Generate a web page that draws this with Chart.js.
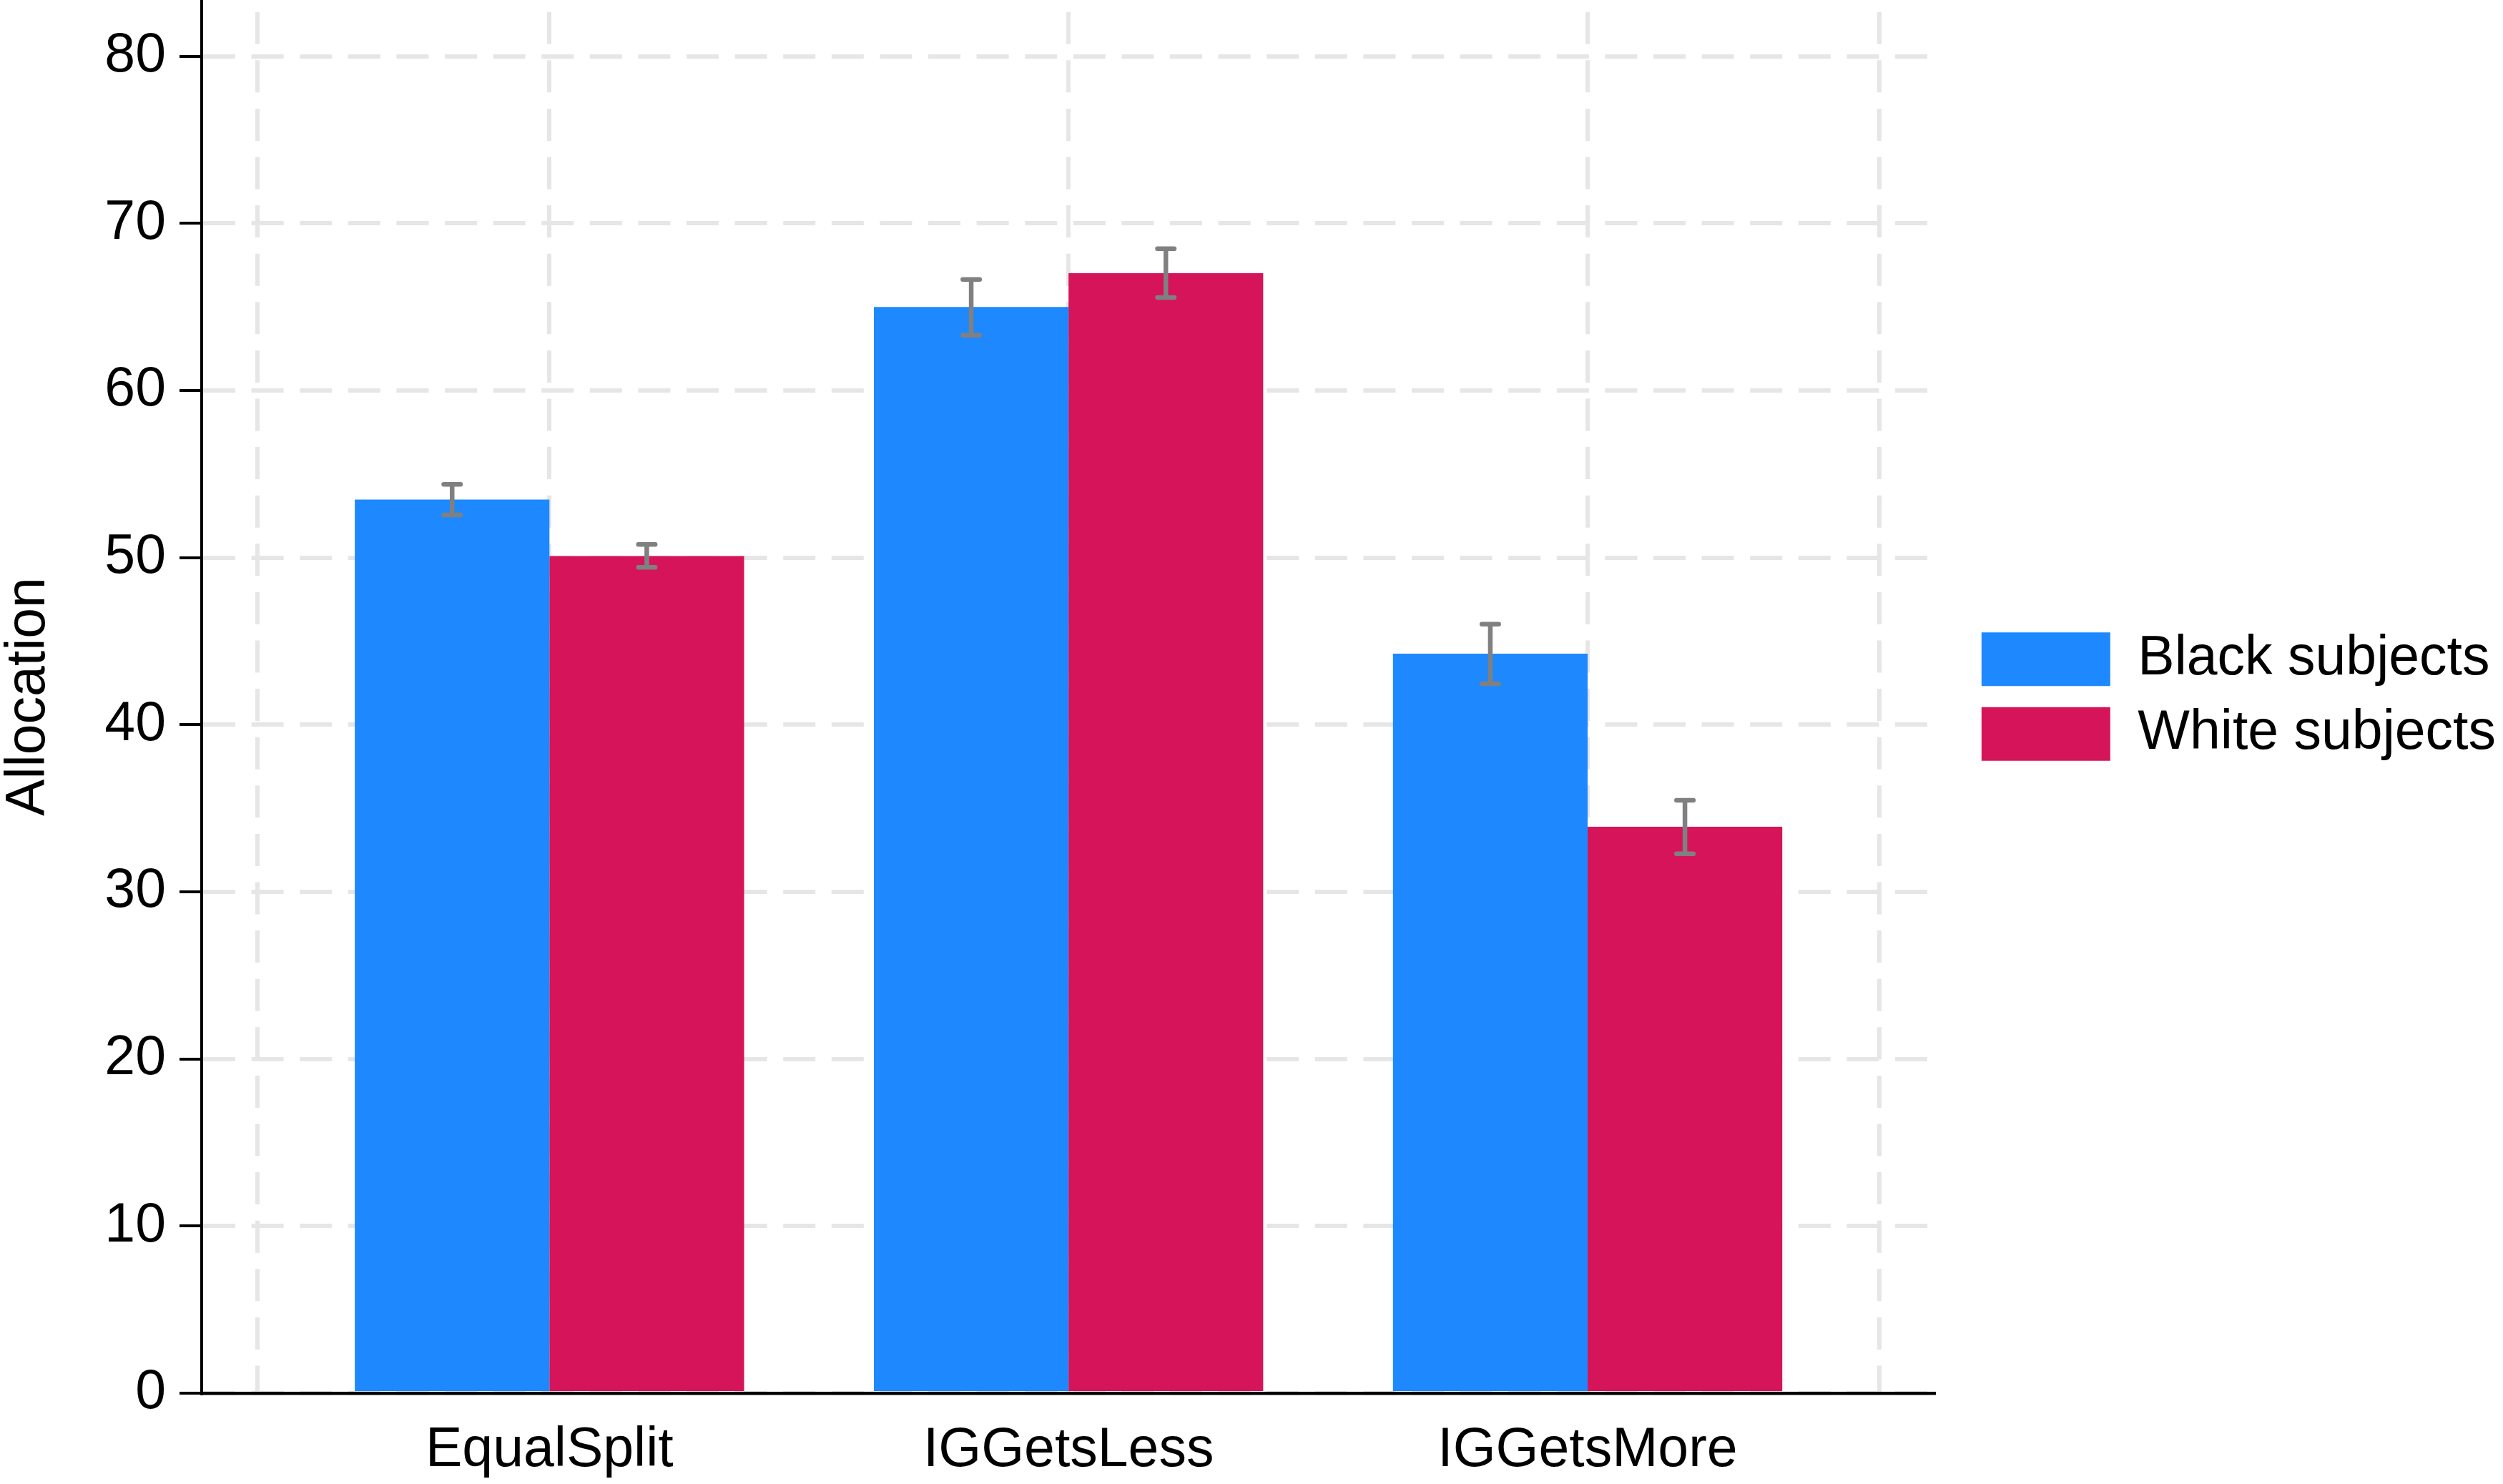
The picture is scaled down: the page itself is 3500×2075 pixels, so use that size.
<!DOCTYPE html>
<html>
<head>
<meta charset="utf-8">
<script src="https://cdn.jsdelivr.net/npm/chart.js@4"></script>
<style>
  html, body { margin: 0; padding: 0; background: #fff; }
  #wrap { width: 3500px; height: 2075px; position: relative; }
</style>
</head>
<body>
<div id="wrap"><canvas id="chart"></canvas></div>
<script>
// Allocation by condition, Black vs White subjects (means with confidence intervals)

const categories = ["EqualSplit", "IGGetsLess", "IGGetsMore"]
const categoryPos = [1, 2, 3]

const blackMeans = [53.48, 65.0, 44.25]
const blackLow = [52.56, 63.31, 42.46]
const blackHigh = [54.38, 66.65, 46.02]

const whiteMeans = [50.1, 67.02, 33.9]
const whiteLow = [49.42, 65.57, 32.28]
const whiteHigh = [50.79, 68.49, 35.48]

const yTicks = [0, 10, 20, 30, 40, 50, 60, 70, 80]
// vertical grid lines (x units, categories sit at 1, 2, 3)
const xGridPos = [0.4375, 1, 2, 3, 3.5625]

const FONT = "'Liberation Sans', Arial, Helvetica, sans-serif"
const font = { family: FONT, size: 77 }
const gridColor = "#e6e6e6"
const gridDash = [45, 22.6]

// draw the CI whiskers on top of the bars
const errorBars = {
  id: "errorBars",
  afterDatasetsDraw(chart) {
    const ctx = chart.ctx
    const yScale = chart.scales.y
    const half = 11.75
    ctx.save()
    ctx.strokeStyle = "#808080"
    ctx.lineWidth = 6.5
    ctx.lineCap = "round"
    chart.data.datasets.forEach((ds, d) => {
      const meta = chart.getDatasetMeta(d)
      meta.data.forEach((bar, i) => {
        const top = yScale.getPixelForValue(ds.ciHigh[i])
        const bottom = yScale.getPixelForValue(ds.ciLow[i])
        ctx.beginPath()
        ctx.moveTo(bar.x, top)
        ctx.lineTo(bar.x, bottom)
        ctx.moveTo(bar.x - half, top)
        ctx.lineTo(bar.x + half, top)
        ctx.moveTo(bar.x - half, bottom)
        ctx.lineTo(bar.x + half, bottom)
        ctx.stroke()
      })
    })
    ctx.restore()
  },
}

const toPoints = (vals) => categoryPos.map((x, i) => ({ x, y: vals[i] }))

new Chart(document.getElementById("chart"), {
  type: "bar",
  data: {
    datasets: [
      {
        label: "Black subjects",
        data: toPoints(blackMeans),
        ciLow: blackLow,
        ciHigh: blackHigh,
        backgroundColor: "#1e88ff",
        borderWidth: 0,
        barPercentage: 1,
        categoryPercentage: 0.75,
      },
      {
        label: "White subjects",
        data: toPoints(whiteMeans),
        ciLow: whiteLow,
        ciHigh: whiteHigh,
        backgroundColor: "#d51459",
        borderWidth: 0,
        barPercentage: 1,
        categoryPercentage: 0.75,
      },
    ],
  },
  options: {
    responsive: true,
    maintainAspectRatio: false,
    devicePixelRatio: 1,
    animation: false,
    layout: { padding: 0 },
    plugins: {
      tooltip: { enabled: false },
      legend: {
        position: "right",
        align: "center",
        fullSize: false,
        maxWidth: 900,
        labels: { boxWidth: 180, boxHeight: 75, padding: 27.5, font, color: "#000" },
      },
    },
    scales: {
      x: {
        type: "linear",
        position: "bottom",
        min: 0.33,
        max: 3.67,
        offset: false,
        afterBuildTicks: (s) => { s.ticks = categoryPos.map((v) => ({ value: v })) },
        afterFit: (s) => { s.height = 127; s.paddingLeft = 0; s.paddingRight = 0 },
        grid: { display: false, drawTicks: false, tickLength: 0, offset: false },
        border: { display: true, color: "#000", width: 4.5 },
        ticks: {
          padding: 35,
          font,
          color: "#000",
          maxRotation: 0,
          autoSkip: false,
          callback: (v) => categories[categoryPos.indexOf(v)] ?? "",
        },
      },
      xGrid: {
        type: "linear",
        position: "top",
        min: 0.33,
        max: 3.67,
        offset: false,
        afterBuildTicks: (s) => { s.ticks = xGridPos.map((v) => ({ value: v })) },
        afterFit: (s) => { s.height = 0; s.paddingLeft = 0; s.paddingRight = 0 },
        grid: { color: gridColor, lineWidth: 6, drawTicks: false, offset: false },
        border: { display: false, dash: gridDash, dashOffset: 50.9 },
        ticks: { display: false },
      },
      y: {
        type: "linear",
        position: "left",
        min: 0,
        max: 83.37,
        afterBuildTicks: (s) => { s.ticks = yTicks.map((v) => ({ value: v })) },
        afterFit: (s) => { s.width = 282; s.paddingTop = 0; s.paddingBottom = 0 },
        grid: {
          color: gridColor,
          lineWidth: 6,
          tickLength: 31,
          tickColor: "#000",
          tickWidth: 4,
          tickBorderDash: [],
        },
        border: { color: "#000", width: 4, dash: gridDash },
        ticks: { padding: 19, font, color: "#000" },
        title: {
          display: true,
          text: "Allocation",
          font: { family: FONT, size: 77, lineHeight: 1 },
          color: "#000",
          padding: { top: 2, bottom: 0 },
        },
      },
      // empty right axis, only keeps a gap between plot and legend
      gap: {
        type: "linear",
        position: "right",
        afterFit: (s) => { s.width = 37; s.paddingTop = 0; s.paddingBottom = 0 },
        grid: { display: false, drawTicks: false },
        border: { display: false },
        ticks: { display: false },
      },
    },
  },
  plugins: [errorBars],
})
</script>
</body>
</html>
